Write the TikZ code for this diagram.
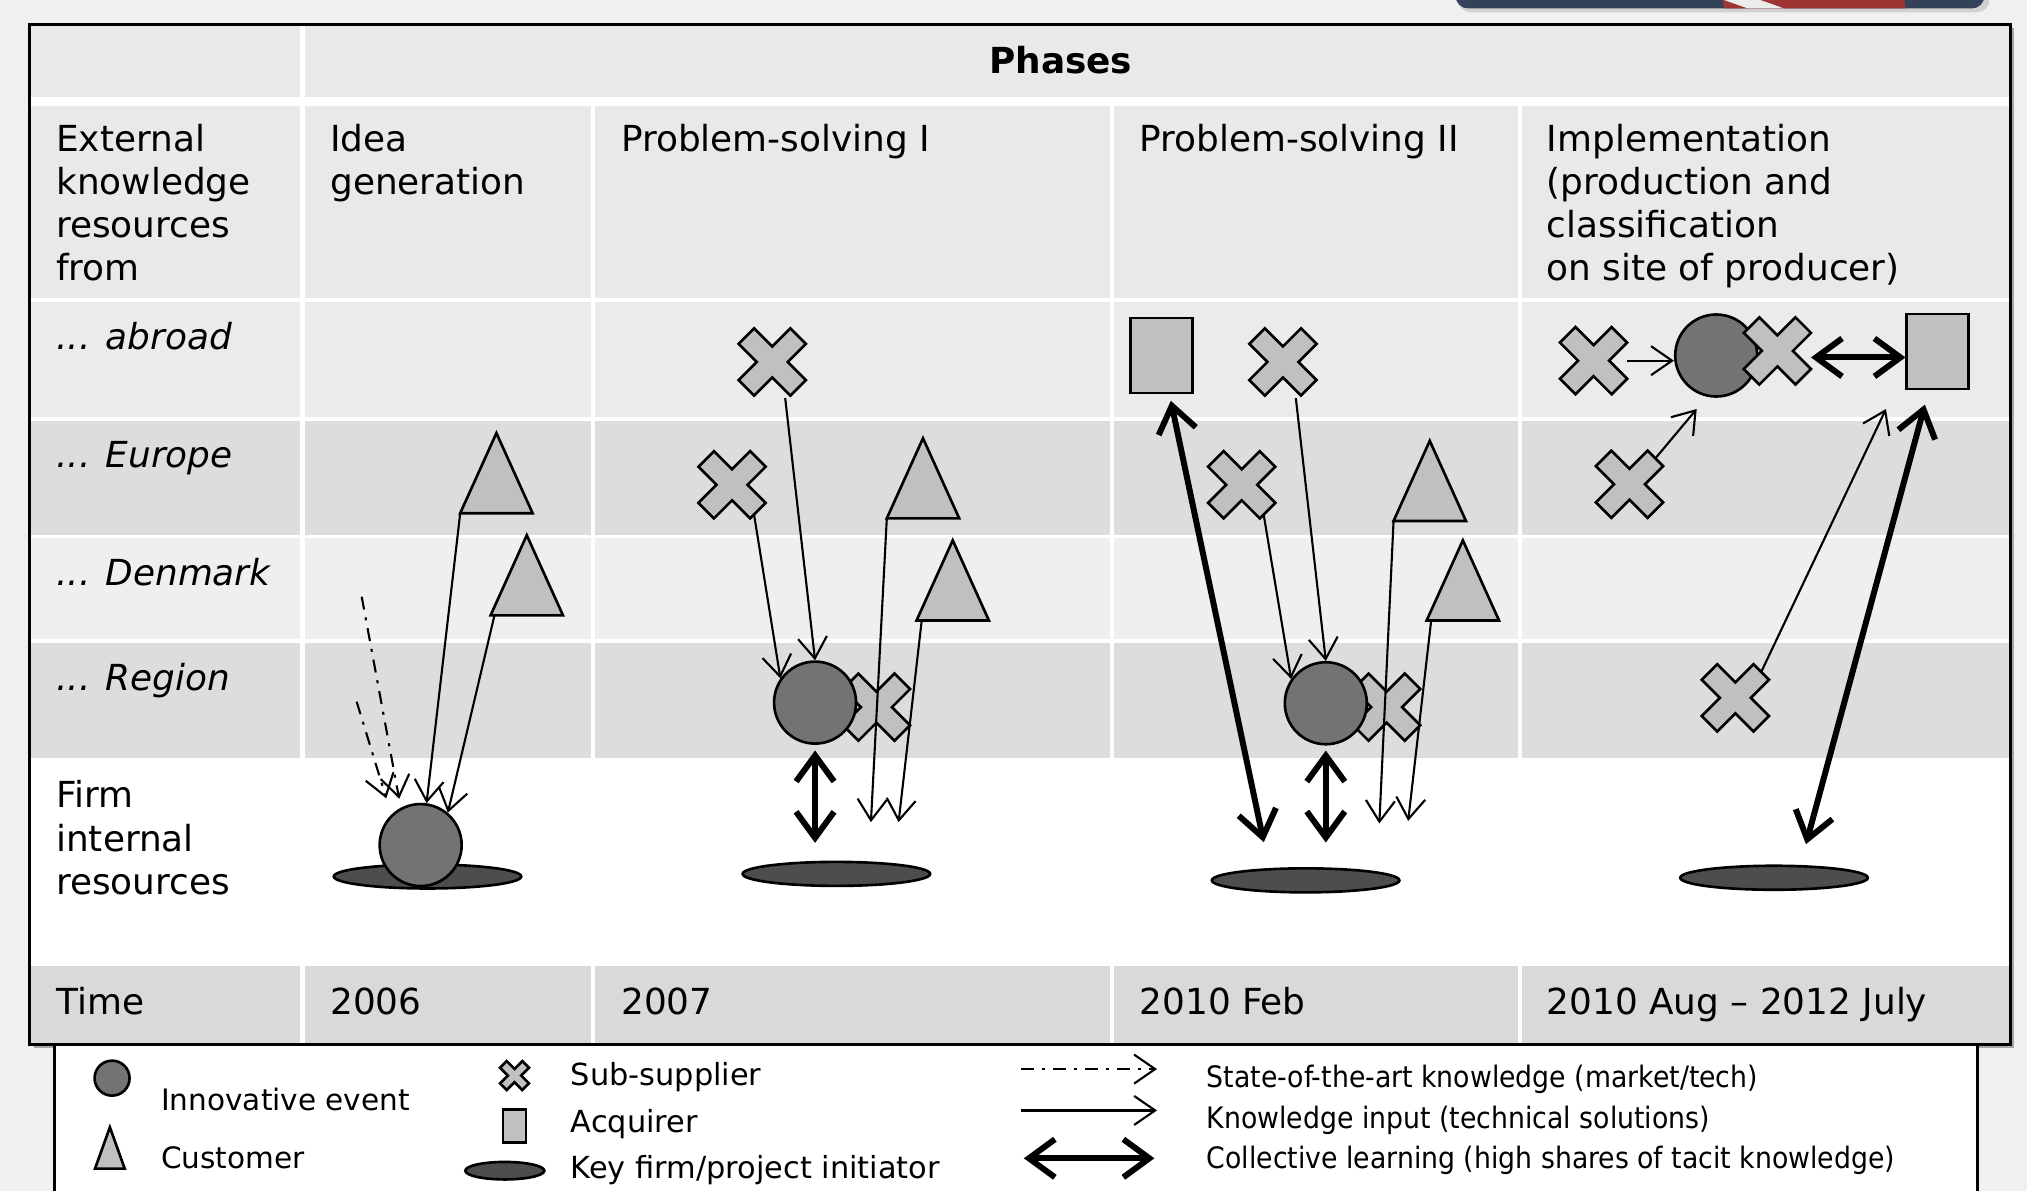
\documentclass[tikz,border=0pt]{standalone}
\usepackage{fontspec}
\setmainfont{DejaVu Sans}
\newfontfamily\tahomalike[FakeStretch=0.905]{DejaVu Sans}
\usetikzlibrary{arrows.meta,shapes.geometric,calc}
\definecolor{pagebg}{HTML}{EFF0EF}
\definecolor{hdrbg}{HTML}{E9E9E9}
\definecolor{rowA}{HTML}{EBEBEB}
\definecolor{rowB}{HTML}{DDDDDD}
\definecolor{rowC}{HTML}{EFEFEF}
\definecolor{timebg}{HTML}{D9D9D9}
\definecolor{shapefill}{HTML}{C0C0C0}
\definecolor{eventfill}{HTML}{737373}
\definecolor{firmfill}{HTML}{4D4D4D}
\definecolor{deco}{HTML}{33415A}
\definecolor{decored}{HTML}{9E3434}
\tikzset{
  shapeline/.style={draw=black, line width=0.75pt},
  event/.style={circle, shapeline, fill=eventfill, minimum size=8.2mm, inner sep=0pt},
  firm/.style={ellipse, shapeline, fill=firmfill, minimum width=18.75mm, minimum height=2.4mm, inner sep=0pt},
  acquirer/.style={rectangle, shapeline, fill=shapefill, minimum width=6.2mm, minimum height=7.5mm, inner sep=0pt},
  knowin/.style={-{Straight Barb[length=2.1mm,width=2.9mm]}, line width=0.6pt},
  sota/.style={knowin, dash pattern=on 1.3mm off 0.8mm on 0.3mm off 0.8mm},
  collective/.style={{Straight Barb[length=2.6mm,width=3.8mm]}-{Straight Barb[length=2.6mm,width=3.8mm]}, line width=1.7pt},
  celltext/.style={anchor=base west, inner sep=0pt, align=left, font=\fontsize{10.2}{12.3}\selectfont},
  legtext/.style={anchor=base west, inner sep=0pt, font=\fontsize{8.4}{10}\selectfont},
  legmid/.style={anchor=base west, inner sep=0pt, font=\fontsize{8.65}{10}\selectfont},
  legright/.style={anchor=base west, inner sep=0pt, font=\tahomalike\fontsize{8.4}{10}\selectfont},
  xmark/.pic={
    \path[shapeline, fill=shapefill] (0,-12)--(14,-26)--(26,-14)--(12,0)--(26,14)--(14,26)--(0,12)
      --(-14,26)--(-26,14)--(-12,0)--(-26,-14)--(-14,-26)--cycle;
    \coordinate (-c) at (0,0);
    \coordinate (-e) at (26,0);
    \coordinate (-ne) at (20,-20);
    \coordinate (-se) at (17,23);
    \coordinate (-bot) at (10,28);
  },
  customer/.pic={
    \path[shapeline, fill=shapefill] (0,0)--(28,62)--(-28,62)--cycle;
    \coordinate (-apex) at (0,0);
    \coordinate (-bl) at (-28,62);
  },
}
\begin{document}
\begin{tikzpicture}[x=0.12927mm, y=-0.12927mm]
\useasboundingbox (0,0) rectangle (1568,921);
% page background
\fill[pagebg] (0,0) rectangle (1568,921);
% decoration at top right
\fill[black!18, rounded corners=3.5pt] (1128,-40) rectangle (1539,9.5);
\fill[deco, rounded corners=3.5pt] (1126,-40) rectangle (1535,6.5);
\fill[decored] (1322,-40) -- (1468,-40) -- (1474,6.5) -- (1334,6.5) -- cycle;
\fill[white!85!gray] (1328,-2) -- (1352,6.5) -- (1380,6.5) -- (1356,-2) -- cycle;

% table
\fill[black!35] (26,22) rectangle (1558,811);
\fill[white] (23,19) rectangle (1555,808);
\fill[hdrbg] (23,19) rectangle (232.4,75);
\fill[hdrbg] (235.6,19) rectangle (1555,75);
\foreach \yt/\yb/\col in {82/230.5/hdrbg, 233.5/322.5/rowA, 325.5/413.5/rowB, 416.5/494.5/rowC, 497.5/586.5/rowB, 747.5/808/timebg}{
  \foreach \xl/\xr in {23/232.4, 235.6/457.4, 460.6/858.4, 861.6/1174.4, 1177.6/1555}{
    \fill[\col] (\xl,\yt) rectangle (\xr,\yb);
  }
}
% legend box
\fill[white] (42,808) rectangle (1530,930);
\draw[line width=0.8pt] (42,930) -- (42,808) -- (1530,808) -- (1530,930);
\draw[line width=0.9pt] (23,19) rectangle (1555,808);

% texts (multi-line nodes: base = baseline of last line)
\node[celltext, anchor=base] (hdr) at (820.5,57) {\textbf{Phases}};
\node[celltext] (ext) at (43,217.3) {External\\knowledge\\resources\\from};
\node[celltext] (idea) at (255,150.4) {Idea\\generation};
\node[celltext] (ps1) at (480,117) {Problem-solving I};
\node[celltext] (ps2) at (881,117) {Problem-solving II};
\node[celltext] (impl) at (1196,217.3) {Implementation\\(production and\\classification\\on site of producer)};
\node[celltext] (abr) at (43,270) {\textit{... abroad}};
\node[celltext] (eur) at (43,362) {\textit{... Europe}};
\node[celltext] (den) at (43,453) {\textit{... Denmark}};
\node[celltext] (reg) at (43,534) {\textit{... Region}};
\node[celltext] (fir) at (43,691.9) {Firm\\internal\\resources};
\node[celltext] (tim) at (43,784.5) {Time};
\node[celltext] (y1) at (255,784.5) {2006};
\node[celltext] (y2) at (480,784.5) {2007};
\node[celltext] (y3) at (881,784.5) {2010 Feb};
\node[celltext] (y4) at (1196,784.5) {2010 Aug – 2012 July};

% ---------- column 2: idea generation
\node[firm] (kf2) at (330.7,678) {};
\node[event] (ev2) at (325.4,653.7) {};
\pic (c2t1) at (384,335) {customer};
\pic (c2t2) at (407.5,414) {customer};
\draw[knowin] (c2t1-bl) -- (ev2.82);
\draw[knowin] ($(c2t2-bl)+(3,0)$) -- (ev2.50);
\coordinate (c2d1) at (279.8,461.6);
\coordinate (c2d2) at (275.9,542.8);
\draw[sota, shorten >=0.9mm] (c2d1) -- (ev2.118);
\draw[sota, shorten >=1.7mm] (c2d2) -- (ev2.134);

% ---------- column 3: problem-solving I
\node[firm] (kf3) at (647,676) {};
\pic (c3xr) at (678,547) {xmark};
\node[event] (ev3) at (630.5,543.5) {};
\pic (c3x1) at (597.4,280) {xmark};
\pic (c3x2) at (566.3,375) {xmark};
\pic (c3ta) at (714,339) {customer};
\pic (c3tb) at (737,418) {customer};
\draw[knowin] (c3x2-se) -- (ev3.145);
\draw[knowin] (c3x1-bot) -- (ev3.north);
\coordinate (c3ea) at (673.7,636);
\coordinate (c3eb) at (695.1,636);
\draw[knowin] (c3ta-bl) -- (c3ea);
\draw[knowin] ($(c3tb-bl)+(4,0)$) -- (c3eb);
\draw[collective, shorten <=0.55mm, shorten >=1.77mm] (ev3.south) -- (ev3.south |- kf3.north);

% ---------- column 4: problem-solving II
\node[firm] (kf4) at (1010,681) {};
\pic (c4xr) at (1072.7,547) {xmark};
\node[event] (ev4) at (1025.6,544) {};
\node[acquirer] (sq4) at (898.7,275) {};
\pic (c4x1) at (992.4,280) {xmark};
\pic (c4x2) at (960.5,375) {xmark};
\pic (c4ta) at (1106,341) {customer};
\pic (c4tb) at (1131.6,418) {customer};
\draw[knowin] (c4x2-se) -- (ev4.145);
\draw[knowin] (c4x1-bot) -- (ev4.north);
\coordinate (c4ea) at (1067,637);
\coordinate (c4eb) at (1089.3,635);
\draw[knowin] (c4ta-bl) -- (c4ea);
\draw[knowin] ($(c4tb-bl)+(3.5,0)$) -- (c4eb);
\coordinate (c4ek) at (977.6,651.5);
\draw[collective] ($(sq4.south)+(7,5)$) -- (c4ek);
\draw[collective, shorten <=0.5mm, shorten >=2.45mm] (ev4.south) -- (ev4.south |- kf4.north);

% ---------- column 5: implementation
\node[firm] (kf5) at (1372.3,679) {};
\node[event] (ev5) at (1327.6,275) {};
\pic (c5xb) at (1374.9,271.5) {xmark};
\node[acquirer] (sq5) at (1499,272) {};
\pic (c5xa) at (1232.7,279) {xmark};
\pic (c5xc) at (1260.5,374.6) {xmark};
\pic (c5xd) at (1342.4,539.8) {xmark};
\draw[knowin] (c5xa-e) -- (c5xa-e -| ev5.west);
\coordinate (c5ab) at ($(c5xb-e)+(0,5)$);
\draw[collective] (c5ab) -- (c5ab -| sq5.west);
\coordinate (c5ec) at (1312.5,316.4);
\coordinate (c5ed) at (1458.9,316.4);
\draw[knowin] (c5xc-ne) -- (c5ec);
\draw[knowin] (c5xd-ne) -- (c5ed);
\coordinate (c5ek) at (1397,653);
\draw[collective] ($(sq5.south)+(-10,11)$) -- (c5ek);

% ---------- legend
\node[event, minimum size=3.5mm] (lev) at (86.7,834) {};
\pic[xscale=0.41, yscale=0.516] (lcu) at (85,872) {customer};
\pic[scale=0.43] (lsx) at (398,832) {xmark};
\node[acquirer, minimum width=2.3mm, minimum height=3.25mm] (lacq) at (398,871) {};
\node[firm, minimum width=7.9mm, minimum height=1.75mm] (lkf) at (390.5,905.6) {};
\node[legtext] (l1) at (124.2,859) {Innovative event};
\node[legtext] (l2) at (124.2,904) {Customer};
\node[legmid] (l3) at (441,840) {Sub-supplier};
\node[legmid] (l4) at (441,876) {Acquirer};
\node[legmid] (l5) at (441,912) {Key firm/project initiator};
\coordinate (lsa) at (790,827);
\coordinate (lsb) at (895,827);
\coordinate (lka) at (790,859);
\coordinate (lkb) at (895,859);
\coordinate (lca) at (792,896);
\coordinate (lcb) at (893,896);
\draw[sota] (lsa) -- (lsb);
\draw[knowin] (lka) -- (lkb);
\draw[collective] (lca) -- (lcb);
\node[legright] (l6) at (933,841) {State-of-the-art knowledge (market/tech)};
\node[legright] (l7) at (933,873) {Knowledge input (technical solutions)};
\node[legright] (l8) at (933,904) {Collective learning (high shares of tacit knowledge)};
\end{tikzpicture}
\end{document}
